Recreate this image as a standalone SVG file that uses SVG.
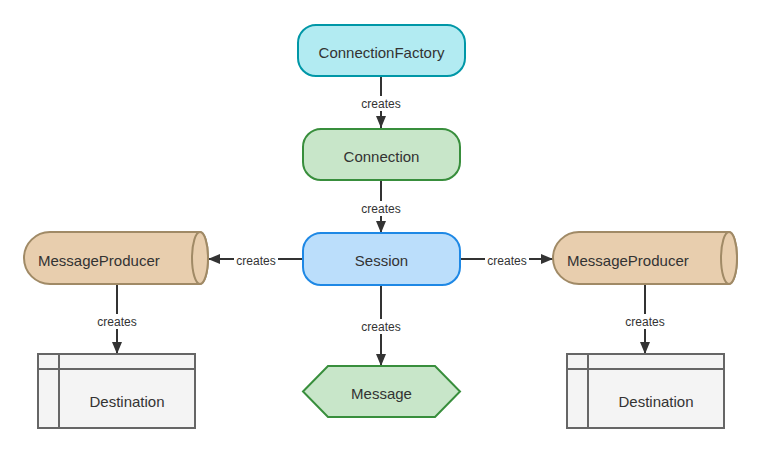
<svg xmlns="http://www.w3.org/2000/svg" width="763" height="453" viewBox="0 0 763 453">
<style>
.t{font-family:"Liberation Sans",Arial,sans-serif;font-size:15px;fill:#333;text-anchor:middle;dominant-baseline:central}
.l{font-family:"Liberation Sans",Arial,sans-serif;font-size:12px;fill:#333;text-anchor:middle;dominant-baseline:central}
.e{stroke:#333;stroke-width:2;fill:none}
.prod{fill:#e8ceae;stroke:#a08a66;stroke-width:2}
.dest{fill:#f4f4f4;stroke:#666;stroke-width:2}
</style>
<defs>
<marker id="a" viewBox="0 0 12 10" refX="12" refY="5" markerWidth="12" markerHeight="10" markerUnits="userSpaceOnUse" orient="auto">
<path d="M0,0 L12,5 L0,10 Z" fill="#333"/>
</marker>
</defs>
<rect width="763" height="453" fill="#fff"/>
<g id="connectors">
<line class="e" x1="381" y1="76" x2="381" y2="128" marker-end="url(#a)"/>
<rect x="359" y="96" width="44" height="15" fill="#fff"/><text class="l" x="381" y="103.5">creates</text>
<line class="e" x1="381" y1="180" x2="381" y2="233" marker-end="url(#a)"/>
<rect x="359" y="201" width="44" height="15" fill="#fff"/><text class="l" x="381" y="208.5">creates</text>
<line class="e" x1="303" y1="259" x2="208" y2="259" marker-end="url(#a)"/>
<rect x="234" y="253" width="44" height="15" fill="#fff"/><text class="l" x="256" y="260.5">creates</text>
<line class="e" x1="460" y1="259" x2="553" y2="259" marker-end="url(#a)"/>
<rect x="485" y="253" width="44" height="15" fill="#fff"/><text class="l" x="507" y="260.5">creates</text>
<line class="e" x1="381" y1="285" x2="381" y2="366" marker-end="url(#a)"/>
<rect x="359" y="319" width="44" height="15" fill="#fff"/><text class="l" x="381" y="326.5">creates</text>
<line class="e" x1="117" y1="284" x2="117" y2="354" marker-end="url(#a)"/>
<rect x="95" y="314" width="44" height="15" fill="#fff"/><text class="l" x="117" y="321.5">creates</text>
<line class="e" x1="645" y1="284" x2="645" y2="354" marker-end="url(#a)"/>
<rect x="623" y="314" width="44" height="15" fill="#fff"/><text class="l" x="645" y="321.5">creates</text>
</g>
<g id="connectionFactory">
<rect x="298" y="25" width="167" height="51" rx="18" fill="#b2ebf2" stroke="#0097a7" stroke-width="2"/>
<text class="t" x="381.5" y="52">ConnectionFactory</text>
</g>
<g id="connection">
<rect x="303" y="129" width="157" height="51" rx="18" fill="#c8e6c9" stroke="#388e3c" stroke-width="2"/>
<text class="t" x="381.5" y="156">Connection</text>
</g>
<g id="session">
<rect x="303" y="233" width="157" height="52" rx="18" fill="#bbdefb" stroke="#1e88e5" stroke-width="2"/>
<text class="t" x="381.5" y="260">Session</text>
</g>
<g id="producerLeft">
<path class="prod" d="M50,232 L200,232 A8,26 0 0 1 200,284 L50,284 A26,26 0 0 1 50,232 Z"/>
<ellipse class="prod" cx="200" cy="258" rx="8" ry="26"/>
<text class="t" x="38" y="260" style="text-anchor:start">MessageProducer</text>
</g>
<g id="producerRight">
<path class="prod" d="M579,232 L729,232 A8,26 0 0 1 729,284 L579,284 A26,26 0 0 1 579,232 Z"/>
<ellipse class="prod" cx="729" cy="258" rx="8" ry="26"/>
<text class="t" x="567" y="260" style="text-anchor:start">MessageProducer</text>
</g>
<g id="message">
<polygon points="303,391.5 328,366 435,366 460,391.5 435,417 328,417" fill="#c8e6c9" stroke="#388e3c" stroke-width="2"/>
<text class="t" x="381.5" y="393">Message</text>
</g>
<g id="destinationLeft">
<rect class="dest" x="38" y="354" width="157" height="74"/>
<line class="dest" x1="38" y1="369" x2="195" y2="369"/>
<line class="dest" x1="59" y1="354" x2="59" y2="428"/>
<text class="t" x="127" y="401">Destination</text>
</g>
<g id="destinationRight">
<rect class="dest" x="567" y="354" width="157" height="74"/>
<line class="dest" x1="567" y1="369" x2="724" y2="369"/>
<line class="dest" x1="588" y1="354" x2="588" y2="428"/>
<text class="t" x="656" y="401">Destination</text>
</g>
</svg>
